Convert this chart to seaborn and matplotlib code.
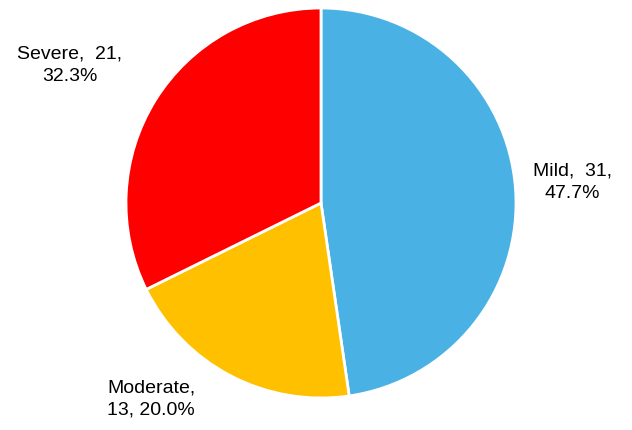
import matplotlib
matplotlib.use("Agg")
import matplotlib.pyplot as plt
import seaborn as sns

sns.set_theme(style="white")
plt.rcParams['font.family'] = ['Liberation Sans', 'DejaVu Sans']

categories = ["Mild", "Moderate", "Severe"]
counts = [31, 13, 21]
colors = ["#4AB1E4", "#FFC000", "#FF0000"]

fig = plt.figure(figsize=(6.32, 4.31), dpi=100)
cx, cy, r = 321, 204, 195
W, H = 632, 431
ax = fig.add_axes([(cx - r) / W, 1 - (cy + r) / H, 2 * r / W, 2 * r / H])
wedges, _ = ax.pie(counts, colors=colors, startangle=90, counterclock=False,
                   wedgeprops=dict(edgecolor="white", linewidth=2))
ax.set_xlim(-1, 1)
ax.set_ylim(-1, 1)
ax.set_aspect("equal")

total = sum(counts)
pct = [c / total * 100 for c in counts]
fs = 14
ls = 1.45
ax.text(1.29, 0.11, f"{categories[0]},  {counts[0]},\n{pct[0]:.1f}%", ha="center", va="center",
        fontsize=fs, color="black", linespacing=ls, clip_on=False)
ax.text(-1.095, -1.0, f"{categories[1]},\n{counts[1]}, {pct[1]:.1f}%", ha="left", va="center",
        fontsize=fs, color="black", linespacing=ls, clip_on=False)
ax.text(-1.29, 0.71, f"{categories[2]},  {counts[2]},\n{pct[2]:.1f}%", ha="center", va="center",
        fontsize=fs, color="black", linespacing=ls, clip_on=False)

fig.savefig("out.png", dpi=100)
